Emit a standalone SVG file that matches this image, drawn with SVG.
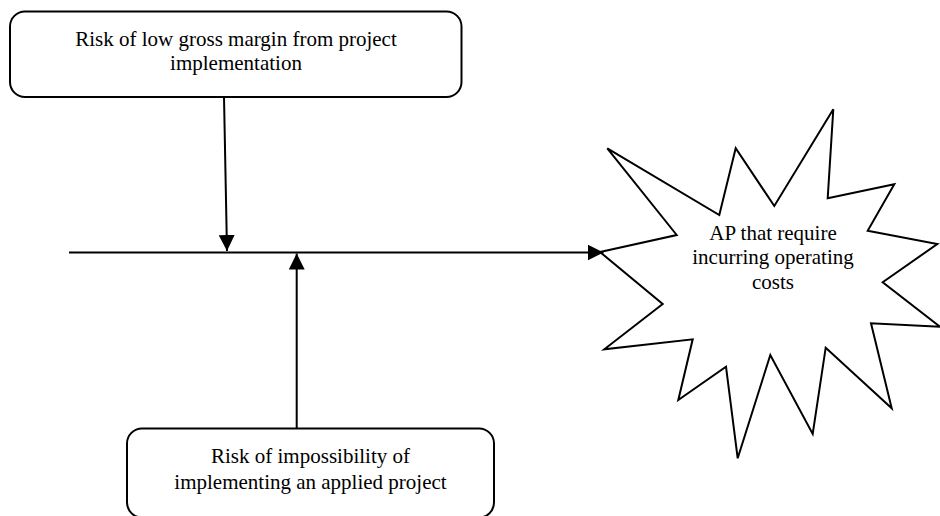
<svg xmlns="http://www.w3.org/2000/svg" width="940" height="516" viewBox="0 0 940 516">
<style>
.box{fill:#fff;stroke:#000;stroke-width:2}
.t{font-family:"Liberation Serif","Times New Roman",serif;font-size:21px;fill:#000;text-anchor:middle}
.ln{stroke:#000;stroke-width:2;fill:none}
</style>
<defs>
<marker id="ah" markerWidth="16" markerHeight="16" refX="16" refY="8" orient="auto" markerUnits="userSpaceOnUse" viewBox="0 0 16 16">
<path d="M0,0 L16,8 L0,16 Z" fill="#000"/>
</marker>
</defs>
<rect width="940" height="516" fill="#fff"/>
<g id="node-top">
<rect class="box" x="10" y="11.5" width="451.5" height="85.5" rx="15"/>
<text class="t" x="236" y="45.5">Risk of low gross margin from project</text>
<text class="t" x="236" y="70">implementation</text>
</g>
<g id="node-bottom">
<rect class="box" x="127" y="428.5" width="367" height="89" rx="15"/>
<text class="t" x="310.5" y="462.5">Risk of impossibility of</text>
<text class="t" x="310.5" y="489">implementing an applied project</text>
</g>
<g id="node-burst">
<polygon class="box" points="600,252 676.7,235 607.3,148.3 719.3,215 735.7,148.3 774.3,206 833.3,109.3 827.7,198.3 894.3,184.3 867.7,230.7 937.3,244 882.7,282.3 940,326.7 871,323.3 891.7,408.3 825.7,347.7 812.7,434 770.3,355 737.7,458.3 726,366.7 678.3,400 692.7,339.3 604.3,349.3 662.7,304"/>
<text class="t" x="773" y="239.5">AP that require</text>
<text class="t" x="773" y="264">incurring operating</text>
<text class="t" x="773" y="288.5">costs</text>
</g>
<g id="connectors">
<line class="ln" x1="69" y1="252.5" x2="603.5" y2="252.5" marker-end="url(#ah)"/>
<line class="ln" x1="224" y1="97" x2="227" y2="251" marker-end="url(#ah)"/>
<line class="ln" x1="296.7" y1="428.5" x2="296.7" y2="253.5" marker-end="url(#ah)"/>
</g>
</svg>
